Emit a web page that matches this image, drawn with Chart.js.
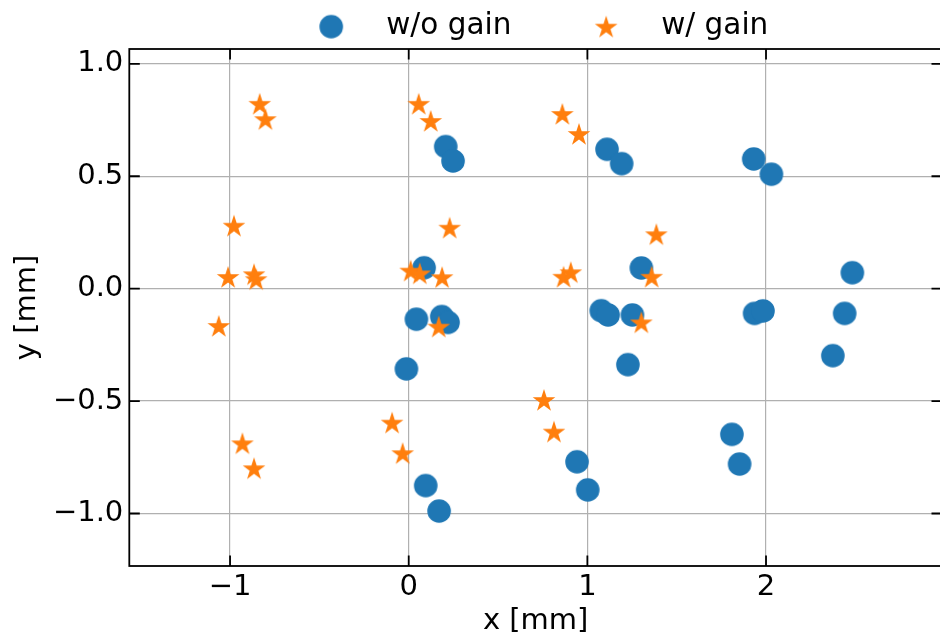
<!DOCTYPE html>
<html>
<head>
<meta charset="utf-8">
<script src="https://cdn.jsdelivr.net/npm/chart.js@4.4.1/dist/chart.umd.min.js"></script>
<style>
  html, body { margin: 0; padding: 0; overflow: hidden; background: #fff; }
  #wrap { width: 943px; height: 639px; }
</style>
</head>
<body>
<div id="wrap"><canvas id="myChart" width="943" height="639"></canvas></div>
<script>
// data
const seriesNames = ["w/o gain", "w/ gain"];

const noGainX = [0.207, 0.248, 0.086, 1.110, 1.192, 1.931, 2.030, 1.302, 2.483,
  0.043, 0.185, 0.220, -0.013, 0.095, 0.170, 1.078, 1.116, 1.252,
  1.227, 1.936, 1.983, 2.440, 2.374, 1.809, 1.852, 0.942, 1.002];
const noGainY = [0.632, 0.568, 0.093, 0.620, 0.556, 0.577, 0.509, 0.092, 0.071,
  -0.136, -0.124, -0.150, -0.357, -0.876, -0.989, -0.098, -0.117, -0.117,
  -0.338, -0.110, -0.099, -0.110, -0.298, -0.648, -0.780, -0.770, -0.895];

const gainX = [-0.834, -0.802, 0.056, 0.123, -0.978, 0.229, -1.011, -0.866, -0.854,
  0.011, 0.062, 0.187, 0.860, 0.953, 1.386, 0.867, 0.907, 1.360,
  -1.063, 0.168, -0.931, -0.866, -0.093, -0.034, 1.302, 0.757, 0.813];
const gainY = [0.822, 0.754, 0.822, 0.746, 0.280, 0.271, 0.052, 0.064, 0.042,
  0.080, 0.068, 0.051, 0.777, 0.688, 0.242, 0.053, 0.073, 0.053,
  -0.166, -0.169, -0.688, -0.799, -0.596, -0.732, -0.150, -0.495, -0.636];

const xTicks = [-1, 0, 1, 2];
const xTickLabels = ["\u22121", "0", "1", "2"];
const yTicks = [-1.0, -0.5, 0.0, 0.5, 1.0];
const yTickLabels = ["\u22121.0", "\u22120.5", "0.0", "0.5", "1.0"];
const xRange = [-1.564, 2.985];
const yRange = [-1.2335, 1.066];

const toPoints = (xs, ys) => xs.map((x, i) => ({ x: x, y: ys[i] }));

// marker images (chart.js has no filled 5-point star)
function makeDot(r, color) {
  const c = document.createElement("canvas");
  c.width = 26; c.height = 26;
  const g = c.getContext("2d");
  g.fillStyle = color;
  g.beginPath();
  g.arc(13, 13, r, 0, Math.PI * 2);
  g.fill();
  return c;
}

function makeStar(R, color) {
  const c = document.createElement("canvas");
  c.width = 26; c.height = 26;
  const g = c.getContext("2d");
  const r = R * 0.381966;
  g.fillStyle = color;
  g.beginPath();
  for (let i = 0; i < 10; i++) {
    const a = -Math.PI / 2 + i * Math.PI / 5;
    const rr = i % 2 === 0 ? R : r;
    const px = 13 + rr * Math.cos(a);
    const py = 13 + 1 + rr * Math.sin(a);
    if (i === 0) g.moveTo(px, py); else g.lineTo(px, py);
  }
  g.closePath();
  g.fill();
  return c;
}

const dotImg = makeDot(11.8, "#1f77b4");
const starImg = makeStar(11.9, "#ff7f0e");

const tickLen = 10.5;

// spines on all four sides with inward ticks
const framePlugin = {
  id: "frame",
  afterDatasetsDraw(chart) {
    const { ctx, chartArea: a, scales } = chart;
    ctx.save();
    ctx.strokeStyle = "#000";
    ctx.lineWidth = 1.8;
    ctx.beginPath();
    xTicks.forEach((v) => {
      const px = scales.x.getPixelForValue(v);
      ctx.moveTo(px, a.bottom);
      ctx.lineTo(px, a.bottom - tickLen);
      ctx.moveTo(px, a.top);
      ctx.lineTo(px, a.top + tickLen);
    });
    yTicks.forEach((v) => {
      const py = scales.y.getPixelForValue(v);
      ctx.moveTo(a.left, py);
      ctx.lineTo(a.left + tickLen, py);
      ctx.moveTo(a.right, py);
      ctx.lineTo(a.right - tickLen, py);
    });
    ctx.stroke();
    ctx.strokeRect(a.left, a.top, a.right - a.left, a.bottom - a.top);
    ctx.restore();
  },
};

// nudge the legend so it sits like the reference one
const legendShift = {
  id: "legendShift",
  afterLayout(chart) {
    const dx = -6, dy = 2.4;
    chart.legend.left += dx;
    chart.legend.right += dx;
    chart.legend.top += dy;
    chart.legend.bottom += dy;
  },
};

Chart.defaults.font.family = "'DejaVu Sans', sans-serif";
Chart.defaults.color = "#000";

const ctx = document.getElementById("myChart").getContext("2d");
const myChart = new Chart(ctx, {
  type: "scatter",
  data: {
    datasets: [
      {
        label: seriesNames[1],
        data: toPoints(gainX, gainY),
        pointStyle: starImg,
        pointRadius: 12,
        backgroundColor: "#ff7f0e",
        borderColor: "#ff7f0e",
      },
      {
        label: seriesNames[0],
        data: toPoints(noGainX, noGainY),
        pointStyle: dotImg,
        pointRadius: 12,
        backgroundColor: "#1f77b4",
        borderColor: "#1f77b4",
      },
    ],
  },
  options: {
    responsive: false,
    animation: false,
    devicePixelRatio: 1,
    layout: { autoPadding: false, padding: { top: -45, left: 0, right: 1, bottom: 0 } },
    plugins: {
      tooltip: { enabled: false },
      legend: {
        position: "top",
        fullSize: false,
        reverse: true,
        labels: {
          usePointStyle: true,
          pointStyleWidth: 80.5,
          padding: 54.5,
          font: { size: 29.5 },
          color: "#000",
        },
      },
    },
    scales: {
      x: {
        type: "linear",
        min: xRange[0],
        max: xRange[1],
        afterBuildTicks: (scale) => {
          scale.ticks = xTicks.map((v) => ({ value: v }));
        },
        afterFit: (scale) => {
          scale.height = 73;
          scale.paddingLeft = 0;
          scale.paddingRight = 0;
        },
        ticks: {
          callback: (value, index) => xTickLabels[index],
          font: { size: 29 },
          padding: 4,
          maxRotation: 0,
        },
        grid: { color: "#b0b0b0", lineWidth: 1.2, drawTicks: false },
        border: { display: false },
        title: {
          display: true,
          text: "x [mm]",
          font: { size: 29 },
          padding: { top: 0, bottom: 0 },
        },
      },
      y: {
        type: "linear",
        min: yRange[0],
        max: yRange[1],
        afterBuildTicks: (scale) => {
          scale.ticks = yTicks.map((v) => ({ value: v }));
        },
        afterFit: (scale) => {
          scale.width = 129.3;
          scale.paddingTop = 0;
          scale.paddingBottom = 0;
        },
        ticks: {
          callback: (value, index) => yTickLabels[index],
          font: { size: 29 },
          padding: 6,
        },
        grid: { color: "#b0b0b0", lineWidth: 1.2, drawTicks: false },
        border: { display: false },
        title: {
          display: true,
          text: "y [mm]",
          font: { size: 29 },
          padding: { top: 10, bottom: 0 },
        },
      },
    },
  },
  plugins: [framePlugin, legendShift],
});
</script>
</body>
</html>
